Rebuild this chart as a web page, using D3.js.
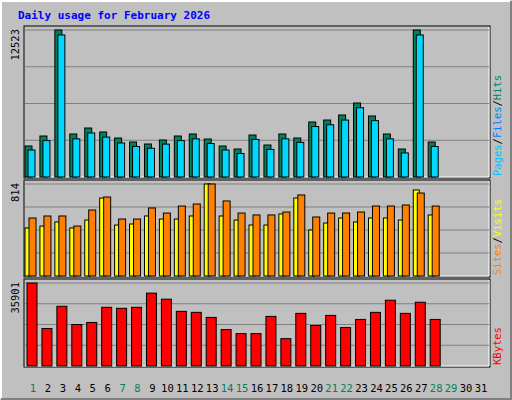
<!DOCTYPE html><html><head><script src="https://cdn.jsdelivr.net/npm/d3@7"></script>
<style>body{margin:0;background:#fff}</style></head><body><svg id="c" width="512" height="400"></svg>
<script>
const days=d3.range(1,32);
const hits=[2641,3493,12523,3663,4174,3834,3322,2982,2811,3152,3493,3663,3237,2641,2385,3578,2726,3663,3322,4685,4856,5282,6304,5197,3663,2385,12523,2982];
const files=[2300,3100,12100,3250,3750,3400,2900,2600,2450,2800,3100,3250,2850,2300,2000,3200,2350,3250,2950,4300,4450,4850,5900,4800,3250,2050,12100,2600];
const sites=[425,442,478,425,495,690,451,460,531,504,504,531,814,531,495,451,451,549,690,407,469,513,478,513,513,495,761,540];
const visits=[513,531,531,442,584,699,504,504,602,557,619,637,814,664,557,540,540,566,717,522,557,557,566,619,619,628,734,619];
const kbytes=[35901,16200,25830,17950,18825,25393,24955,25393,31522,28895,23641,23204,21015,15761,14010,14010,21453,11821,22766,17512,21891,16637,20139,23204,28458,22766,27582,20139];
const weekend=[1,7,8,14,15,21,22,28,29];
const svg=d3.select("#c");
svg.append("rect").attr("x",0).attr("y",0).attr("width",512).attr("height",400).attr("fill","#c0c0c0");
svg.append("path").attr("d","M1,399V1H511").attr("stroke","#fff").attr("stroke-width",2).attr("fill","none");
svg.append("path").attr("d","M1,399H511V1").attr("stroke","#808080").attr("stroke-width",2).attr("fill","none");
svg.append("text").attr("x",18).attr("y",19).text("Daily usage for February 2026").attr("font-family","DejaVu Sans Mono").attr("font-weight","bold").attr("font-size",11).attr("fill","#0000ff");
const x=d3.scaleLinear().domain([1,31]).range([33,481]);
const mono="DejaVu Sans Mono";
function panel(y0,y1,max,label,series,rlabels){
  svg.append("rect").attr("x",24).attr("y",y0).attr("width",466).attr("height",y1-y0).attr("fill","#c0c0c0").attr("stroke","#000");
  svg.append("path").attr("d",`M25,${y1-1}H489V${y0+1}`).attr("stroke","#fff").attr("fill","none");
  const y=d3.scaleLinear().domain([0,max]).range([y1-1,y0+4]);
  [0.25,0.5,0.75,1].forEach(f=>svg.append("line").attr("x1",25).attr("x2",489).attr("y1",y(max*f)).attr("y2",y(max*f)).attr("stroke","#808080"));
  series.forEach(s=>{
    svg.append("g").selectAll("rect").data(s.v).join("rect")
      .attr("x",(d,i)=>x(i+1)+s.off).attr("width",s.w).attr("y",d=>y(d)).attr("height",d=>y(0)-y(d))
      .attr("fill",s.c).attr("stroke","#000").attr("stroke-width",1);
  });
  svg.append("text").attr("transform",`translate(19,${y0+3}) rotate(-90)`).attr("text-anchor","end").text(label).attr("font-family",mono).attr("font-size",10.5).attr("fill","#000");
  const t=svg.append("text").attr("transform",`translate(501,${y1-2}) rotate(-90)`).attr("font-family",mono).attr("font-size",10.5);
  rlabels.forEach(([s,c])=>t.append("tspan").text(s).attr("fill",c));
}
panel(26,178,12523,"12523",[{v:hits,c:"#00805c",off:-8,w:7},{v:files,c:"#00d8ff",off:-5,w:7}],[["Pages","#00c0ff"],["/","#000"],["Files","#0080ff"],["/","#000"],["Hits","#00805c"]]);
panel(180,277,814,"814",[{v:sites,c:"#ffff00",off:-8,w:6},{v:visits,c:"#ff8000",off:-4,w:7}],[["Sites","#ff8000"],["/","#000"],["Visits","#ffff00"]]);
panel(279,367,35901,"35901",[{v:kbytes,c:"#ff0000",off:-6,w:10}],[["KBytes","#ff0000"]]);
svg.append("g").selectAll("text").data(days).join("text").attr("x",d=>x(d)).attr("y",392).attr("text-anchor","middle")
  .text(d=>d).attr("font-family",mono).attr("font-size",10.5).attr("fill",d=>weekend.includes(d)?"#00805c":"#000");
</script></body></html>
